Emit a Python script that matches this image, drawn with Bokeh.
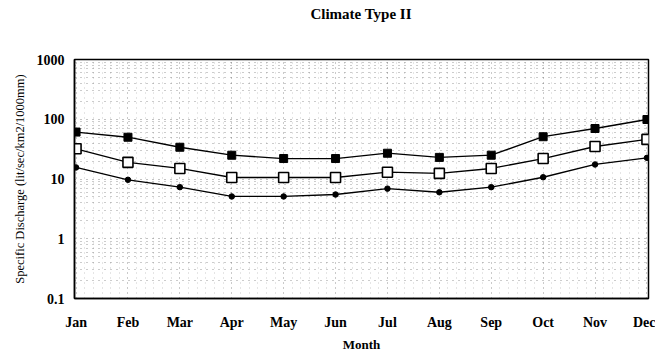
from bokeh.plotting import figure
from bokeh.embed import file_html
from bokeh.resources import INLINE
from bokeh.layouts import column
from bokeh.models import FixedTicker, NumeralTickFormatter, Range1d, Div

months = ["Jan", "Feb", "Mar", "Apr", "May", "Jun", "Jul", "Aug", "Sep", "Oct", "Nov", "Dec"]
upper = [61, 50, 34, 25, 22, 22, 27, 23, 25, 51, 70, 99]
middle = [32, 19, 15, 10.6, 10.6, 10.6, 13, 12.4, 15, 22, 35, 46]
lower = [15.6, 9.7, 7.3, 5.1, 5.1, 5.5, 6.9, 6.0, 7.3, 10.7, 17.5, 22.6]
y_ticks = [0.1, 1, 10, 100, 1000]
title_text = "Climate Type II"

x = list(range(len(months)))
FONT = "Liberation Serif"
TOP = 28

title_div = Div(width=655, height=TOP, margin=0,
                text=('<div style="position:absolute; left:0; top:5px; width:722px; '
                      'text-align:center; font-family:\'Liberation Serif\'; font-size:15px; '
                      'font-weight:bold; color:black; line-height:18px;">%s</div>' % title_text))

p = figure(width=655, height=358 - TOP, output_backend="svg", toolbar_location=None,
           y_axis_type="log", x_range=Range1d(-0.03, 11.03), y_range=Range1d(0.1, 1000),
           min_border_left=74, min_border_right=7, min_border_top=59 - TOP, min_border_bottom=60,
           margin=0)

minor = []
for d in [0.1, 1, 10, 100]:
    for k in range(2, 10):
        minor.append(d * k)
p.yaxis.ticker = FixedTicker(ticks=y_ticks, minor_ticks=minor)
p.yaxis.formatter = NumeralTickFormatter(format="0.[0]")
xminor = [i / 6 for i in range(0, 67)]
p.xaxis.ticker = FixedTicker(ticks=x, minor_ticks=xminor)
p.xaxis.major_label_overrides = {i: m for i, m in enumerate(months)}

for ax in (p.xaxis, p.yaxis):
    ax.major_label_text_font = FONT
    ax.major_label_text_font_size = "14px"
    ax.major_label_text_font_style = "bold"
    ax.major_label_text_color = "black"
    ax.axis_label_text_font = FONT
    ax.axis_label_text_color = "black"
    ax.major_tick_in = 0
    ax.major_tick_out = 0
    ax.minor_tick_in = 0
    ax.minor_tick_out = 0
    ax.axis_line_color = "black"
    ax.axis_line_width = 1.5

p.xaxis.axis_label = "Month"
p.xaxis.axis_label_text_font_size = "13px"
p.xaxis.axis_label_text_font_style = "bold"
p.xaxis.axis_label_standoff = 4
p.xaxis.major_label_standoff = 16
p.yaxis.axis_label = "Specific Discharge (lit/sec/km2/1000mm)"
p.yaxis.axis_label_text_font_size = "12.5px"
p.yaxis.axis_label_text_font_style = "normal"
p.yaxis.axis_label_standoff = 7
p.yaxis.major_label_standoff = 10

p.outline_line_color = "black"
p.outline_line_width = 1.5

p.ygrid.grid_line_color = "#333333"
p.ygrid.grid_line_dash = "1 5"
p.ygrid.grid_line_alpha = 0.6
p.ygrid.minor_grid_line_color = "#333333"
p.ygrid.minor_grid_line_dash = "1 5"
p.ygrid.minor_grid_line_alpha = 0.5
p.xgrid.grid_line_color = "#333333"
p.xgrid.grid_line_dash = "1 4"
p.xgrid.grid_line_alpha = 0.3
p.xgrid.minor_grid_line_color = "#333333"
p.xgrid.minor_grid_line_dash = "1 4"
p.xgrid.minor_grid_line_alpha = 0.25

p.line(x, upper, line_color="black", line_width=1.3)
p.scatter(x, upper, marker="square", size=8, fill_color="black", line_color="black")
p.line(x, middle, line_color="black", line_width=1.3)
p.scatter(x, middle, marker="square", size=10, fill_color="white", line_color="black", line_width=1.6)
p.line(x, lower, line_color="black", line_width=1.3)
p.scatter(x, lower, marker="circle", size=5.5, fill_color="black", line_color="black")

layout = column(title_div, p, spacing=0)
open("out.html", "w").write(file_html(layout, INLINE))
